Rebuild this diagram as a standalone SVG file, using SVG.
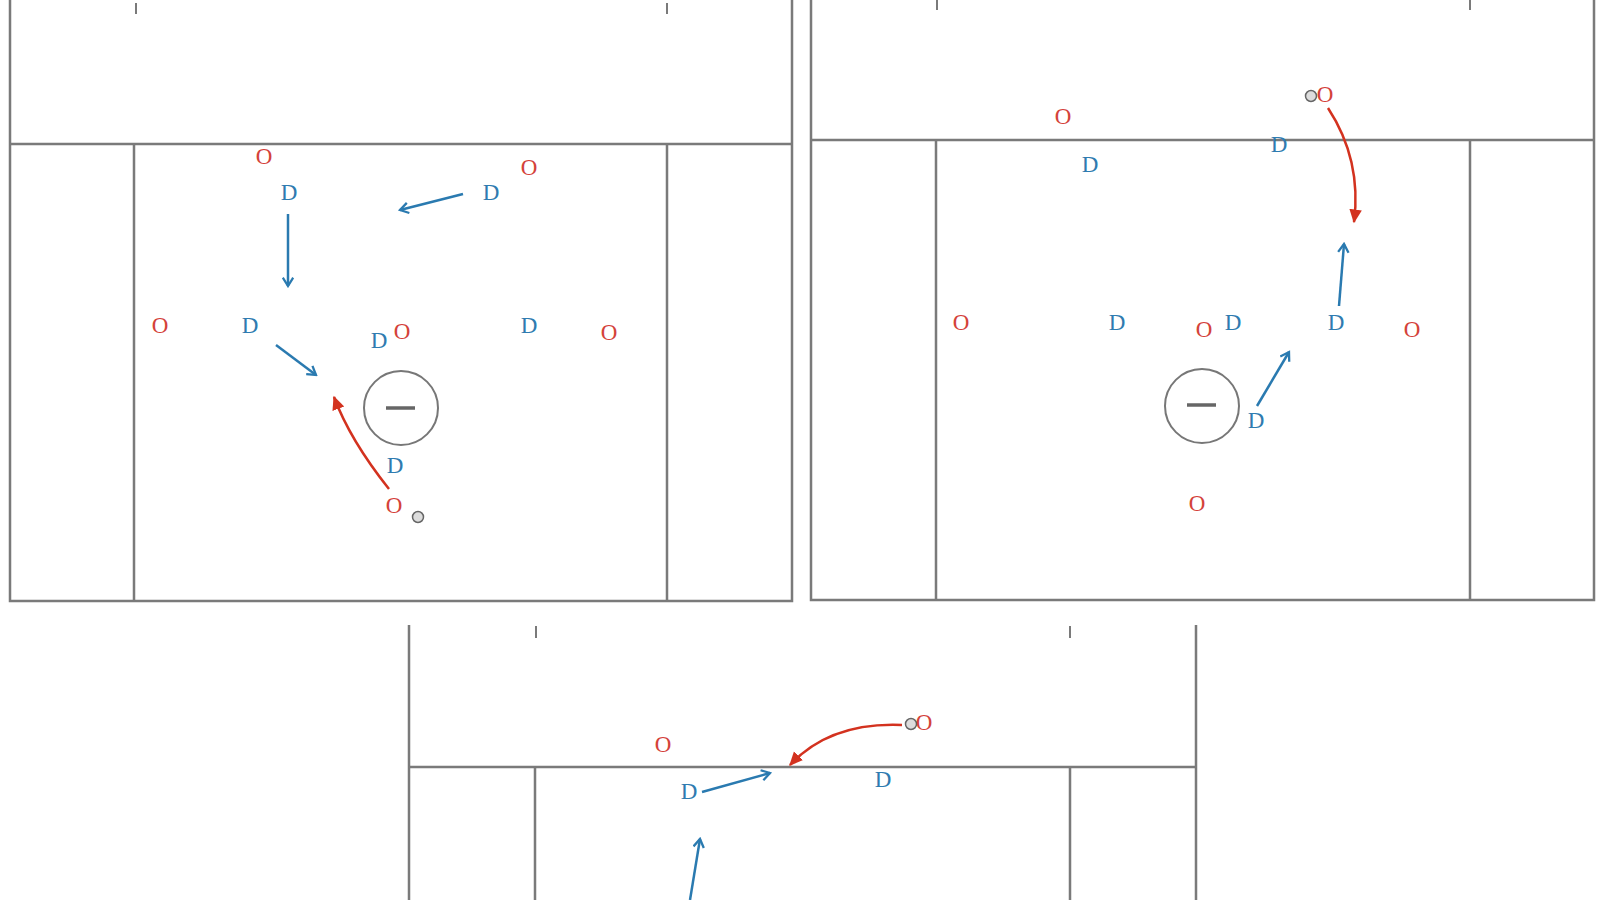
<svg xmlns="http://www.w3.org/2000/svg" width="1600" height="900" viewBox="0 0 1600 900">
<defs>
<style>
.ln{fill:none;stroke:#7a7a7a;stroke-width:2.5}
.tk{fill:none;stroke:#7a7a7a;stroke-width:2}
.o{fill:#d4423a;font-family:"Liberation Serif",serif;font-size:23px;text-anchor:middle;dominant-baseline:central}
.d{fill:#2f7bb0;font-family:"Liberation Serif",serif;font-size:23px;text-anchor:middle;dominant-baseline:central}
.ba{fill:none;stroke:#2a7ab0;stroke-width:2.5;marker-end:url(#bh)}
.ra{fill:none;stroke:#d3321f;stroke-width:2.5;marker-end:url(#rh)}
.goal{fill:#fff;stroke:#777;stroke-width:2}
.crease{stroke:#666;stroke-width:3.5}
.ball{fill:#ddd;stroke:#666;stroke-width:1.5}
</style>
<marker id="bh" viewBox="0 0 12 12" refX="10" refY="6" markerWidth="5" markerHeight="5" orient="auto" markerUnits="strokeWidth">
<path d="M2,1 L10,6 L2,11" fill="none" stroke="#2a7ab0" stroke-width="2.2"/>
</marker>
<marker id="rh" viewBox="0 0 12 12" refX="10" refY="6" markerWidth="6" markerHeight="6" orient="auto" markerUnits="strokeWidth">
<path d="M0,1 L11,6 L0,11 Z" fill="#d3321f"/>
</marker>
</defs>
<rect width="1600" height="900" fill="#fff"/>

<g id="field1">
<path class="ln" d="M10,0 V601 H792 V0"/>
<path class="ln" d="M10,144 H792"/>
<path class="ln" d="M134,144 V601 M667,144 V601"/>
<path class="tk" d="M136,3 V14 M667,3 V14"/>
<g id="goal1"><circle class="goal" cx="401" cy="408" r="37"/><line class="crease" x1="386" y1="408" x2="415" y2="408"/></g>
</g>

<g id="field2">
<path class="ln" d="M811,0 V600 H1594 V0"/>
<path class="ln" d="M811,140 H1594"/>
<path class="ln" d="M936,140 V600 M1470,140 V600"/>
<path class="tk" d="M937,0 V10 M1470,0 V10"/>
<g id="goal2"><circle class="goal" cx="1202" cy="406" r="37"/><line class="crease" x1="1187" y1="405" x2="1216" y2="405"/></g>
</g>

<g id="field3">
<path class="ln" d="M409,625 V900 M1196,625 V900"/>
<path class="ln" d="M409,767 H1196"/>
<path class="ln" d="M535,767 V900 M1070,767 V900"/>
<path class="tk" d="M536,626 V638 M1070,626 V638"/>
</g>

<g id="connectors">
<path class="ba" d="M463,194 L400,210"/>
<path class="ba" d="M288,214 L288,286"/>
<path class="ba" d="M276,345 L316,375"/>
<path class="ra" d="M389,489 Q350,440 334,397"/>
<path class="ra" d="M1328,108 Q1362,160 1354,222"/>
<path class="ba" d="M1339,306 L1344,244"/>
<path class="ba" d="M1257,406 L1289,352"/>
<path class="ra" d="M902,725 Q830,722 790,765"/>
<path class="ba" d="M702,792 L770,773"/>
<path class="ba" d="M690,900 L700,839"/>
</g>

<g id="players1">
<text class="o" x="264" y="156">O</text>
<text class="d" x="289" y="192">D</text>
<text class="o" x="529" y="167">O</text>
<text class="d" x="491" y="192">D</text>
<text class="o" x="160" y="325">O</text>
<text class="d" x="250" y="325">D</text>
<text class="d" x="379" y="340">D</text>
<text class="o" x="402" y="331">O</text>
<text class="d" x="529" y="325">D</text>
<text class="o" x="609" y="332">O</text>
<text class="d" x="395" y="465">D</text>
<text class="o" x="394" y="505">O</text>
<circle class="ball" cx="418" cy="517" r="5.5"/>
</g>

<g id="players2">
<text class="o" x="1063" y="116">O</text>
<circle class="ball" cx="1311" cy="96" r="5.5"/>
<text class="o" x="1325" y="94">O</text>
<text class="d" x="1090" y="164">D</text>
<text class="d" x="1279" y="144">D</text>
<text class="o" x="961" y="322">O</text>
<text class="d" x="1117" y="322">D</text>
<text class="o" x="1204" y="329">O</text>
<text class="d" x="1233" y="322">D</text>
<text class="d" x="1336" y="322">D</text>
<text class="o" x="1412" y="329">O</text>
<text class="d" x="1256" y="420">D</text>
<text class="o" x="1197" y="503">O</text>
</g>

<g id="players3">
<text class="o" x="663" y="744">O</text>
<circle class="ball" cx="911" cy="724" r="5.5"/>
<text class="o" x="924" y="722">O</text>
<text class="d" x="689" y="791">D</text>
<text class="d" x="883" y="779">D</text>
</g>
</svg>
